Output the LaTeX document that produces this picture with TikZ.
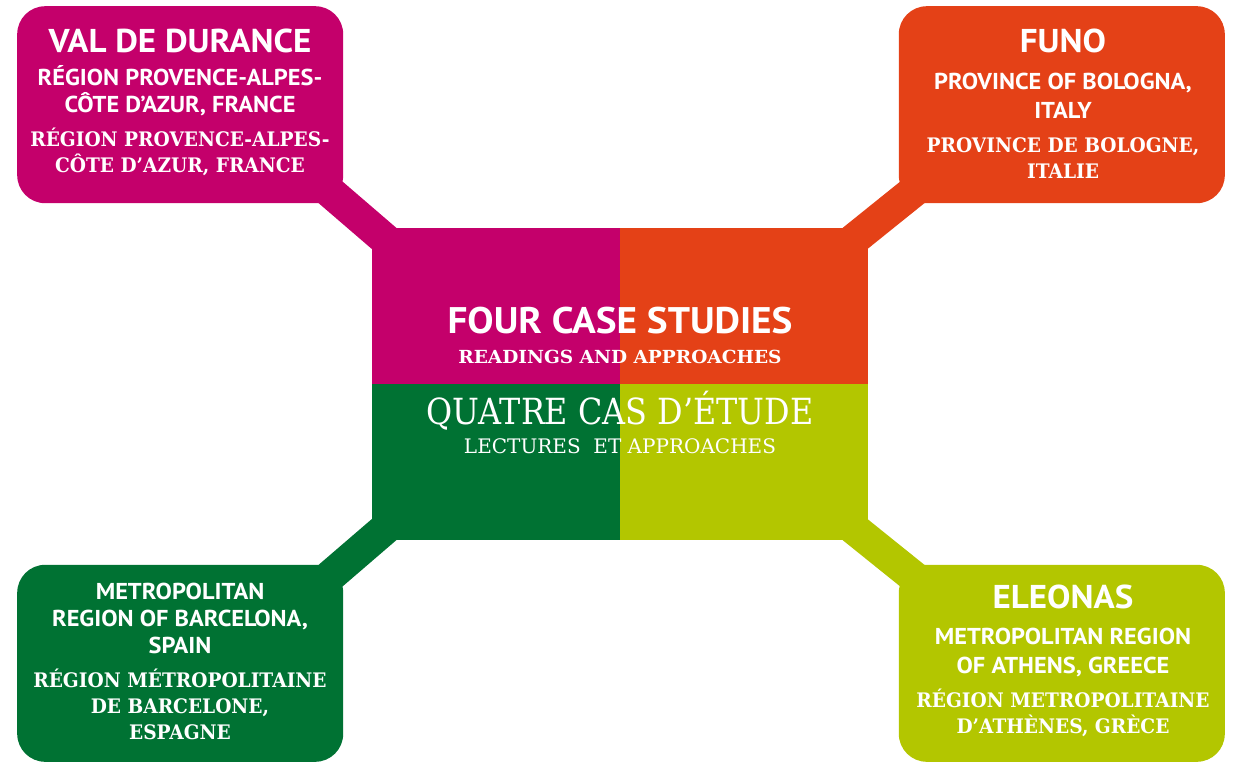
\documentclass[tikz,border=0pt]{standalone}
\usepackage{fontspec}
\newfontfamily\headfont{PT Sans}[FakeStretch=1.06]
\newfontfamily\slabfont{DejaVu Serif}[FakeStretch=0.93]
\newfontfamily\slabwide{DejaVu Serif}[FakeStretch=1.03]
\newfontfamily\slablight{DejaVu Serif}[FakeStretch=0.885]
\newfontfamily\slabplain{DejaVu Serif}

\definecolor{valcol}{RGB}{196,0,107}
\definecolor{funocol}{RGB}{228,65,23}
\definecolor{barcacol}{RGB}{0,114,51}
\definecolor{eleocol}{RGB}{179,198,0}

\begin{document}
\begin{tikzpicture}[x=1pt,y=-1pt,
    case box/.style={fill=#1,rounded corners=28pt,minimum width=326pt,minimum height=197pt,inner sep=0pt},
    quad/.style={fill=#1,minimum width=247.5pt,minimum height=155.5pt,inner sep=0pt},
    link/.style={draw=#1,line width=32pt,shorten <=-30pt,shorten >=-30pt},
    place/.style={text=white,anchor=base,align=center,inner sep=0pt,
      font=\headfont\bfseries\fontsize{33}{33}\selectfont},
    english/.style={text=white,anchor=base,align=center,inner sep=0pt,
      font=\headfont\bfseries\fontsize{23}{27}\selectfont},
    french/.style={text=white,anchor=base,align=center,inner sep=0pt,
      font=\slabfont\bfseries\fontsize{20}{26}\selectfont}]

  \useasboundingbox (0,0) rectangle (1239,766);

  % centre square, one quarter per case
  \node[quad=valcol,anchor=south east] (nw) at (620,384) {};
  \node[quad=funocol,anchor=south west] (ne) at (620,384) {};
  \node[quad=barcacol,anchor=north east] (sw) at (620,384) {};
  \node[quad=eleocol,anchor=north west] (se) at (620,384) {};

  % case boxes in the corners
  \node[case box=valcol,anchor=north west] (val) at (17,6) {};
  \node[case box=funocol,anchor=north east] (funo) at (1225,6) {};
  \node[case box=barcacol,anchor=south west] (barca) at (17,762) {};
  \node[case box=eleocol,anchor=south east] (eleo) at (1225,762) {};

  % links
  \draw[link=valcol] (val.south east) -- (nw.north west);
  \draw[link=funocol] (funo.south west) -- (ne.north east);
  \draw[link=barcacol] (barca.north east) -- (sw.south west);
  \draw[link=eleocol] (eleo.north west) -- (se.south east);

  % titles
  \node[text=white,anchor=base,inner sep=0pt,font=\headfont\bfseries\fontsize{37}{37}\selectfont] (title) at (620,333) {FOUR CASE STUDIES};
  \node[text=white,anchor=base,inner sep=0pt,font=\slabwide\bfseries\fontsize{18}{18}\selectfont] (subtitle) at (620,363) {READINGS AND APPROACHES};
  \node[text=white,anchor=base,inner sep=0pt,font=\slablight\fontsize{36}{36}\selectfont] (titre) at (620,424) {QUATRE CAS D’ÉTUDE};
  \node[text=white,anchor=base,inner sep=0pt,font=\slabplain\fontsize{20}{20}\selectfont] (soustitre) at (620,453) {LECTURES\ \ ET APPROACHES};

  % Val de Durance (multi-line texts sit on their last line)
  \node[place] (valname) at (180,52) {VAL DE DURANCE};
  \node[english] (valen) at (180,112) {RÉGION PROVENCE-ALPES-\\CÔTE D’AZUR, FRANCE};
  \node[french] (valfr) at (180,172) {RÉGION PROVENCE-ALPES-\\CÔTE D’AZUR, FRANCE};

  % Funo
  \node[place] (funoname) at (1063,52) {FUNO};
  \node[english] (funoen) at (1063,118) {PROVINCE OF BOLOGNA,\\[2pt]ITALY};
  \node[french] (funofr) at (1063,178) {PROVINCE DE BOLOGNE,\\ITALIE};

  % Barcelona
  \node[english] (barcaen) at (180,653) {METROPOLITAN\\REGION OF BARCELONA,\\SPAIN};
  \node[french] (barcafr) at (180,739) {RÉGION MÉTROPOLITAINE\\DE BARCELONE,\\ESPAGNE};

  % Eleonas
  \node[place] (eleoname) at (1063,608) {ELEONAS};
  \node[english] (eleoen) at (1063,673) {METROPOLITAN REGION\\[2pt]OF ATHENS, GREECE};
  \node[french] (eleofr) at (1063,733) {RÉGION METROPOLITAINE\\D’ATHÈNES, GRÈCE};
\end{tikzpicture}
\end{document}
